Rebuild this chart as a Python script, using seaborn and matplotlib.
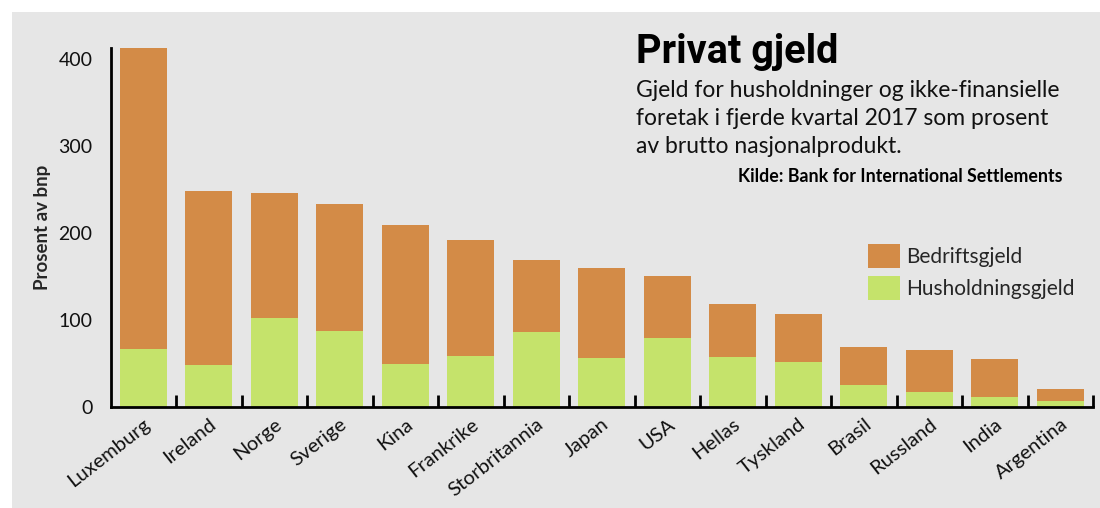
import numpy as np
import pandas as pd
import matplotlib
matplotlib.use("Agg")
import matplotlib.pyplot as plt
from matplotlib.patches import Rectangle
from matplotlib.ticker import FixedLocator
import seaborn as sns

countries = ["Luxemburg", "Ireland", "Norge", "Sverige", "Kina", "Frankrike",
             "Storbritannia", "Japan", "USA", "Hellas", "Tyskland", "Brasil",
             "Russland", "India", "Argentina"]
husholdningsgjeld = [67, 48, 102, 88, 49, 59, 86, 56, 79, 57, 52, 25, 17, 11, 7]
bedriftsgjeld = [346, 201, 144, 146, 160, 133, 83, 104, 72, 62, 55, 44, 48, 44, 14]
y_ticks = [0, 100, 200, 300, 400]
subtitle_lines = ["Gjeld for husholdninger og ikke-finansielle",
                  "foretak i fjerde kvartal 2017 som prosent",
                  "av brutto nasjonalprodukt."]

ORANGE = "#d38b47"
GREEN = "#c5e36b"
BG = "#e6e6e6"

sns.set_theme(style="white")
plt.rcParams["font.family"] = ["Lato", "DejaVu Sans"]

df = pd.DataFrame({
    "land": countries,
    "hus": husholdningsgjeld,
    "bed": bedriftsgjeld,
})
df["total"] = df["hus"] + df["bed"]

fig = plt.figure(figsize=(11, 5.08), dpi=100)
fig.patch.set_facecolor("white")
fig.patches.append(Rectangle((12 / 1100, 0), 1 - 12 / 1100, 1 - 12 / 508,
                             transform=fig.transFigure, facecolor=BG,
                             edgecolor="none", zorder=-10))

ax = fig.add_axes([110.5 / 1100, 101 / 508, (1093 - 110.5) / 1100, (407 - 48) / 508])
ax.set_facecolor("none")

sns.barplot(data=df, x="land", y="total", color=ORANGE, width=0.72,
            saturation=1, ax=ax, label="Bedriftsgjeld")
sns.barplot(data=df, x="land", y="hus", color=GREEN, width=0.72,
            saturation=1, ax=ax, label="Husholdningsgjeld")
for p in ax.patches:
    p.set_edgecolor("none")

ax.set_xlim(-0.5, len(countries) - 0.5)
ax.set_ylim(0, 413)
ax.set_yticks(y_ticks)
ax.set_yticklabels([str(v) for v in y_ticks], fontsize=14, color="#111111")
ax.tick_params(axis="y", direction="out", length=9, width=2, color="black", pad=4)

ax.set_xticks(range(len(countries)))
ax.set_xticklabels(countries, rotation=38, ha="right", rotation_mode="anchor",
                   fontsize=14.5, color="#111111")
ax.tick_params(axis="x", which="major", length=0, pad=6)
ax.xaxis.set_minor_locator(FixedLocator(np.arange(0.5, len(countries), 1.0)))
ax.tick_params(axis="x", which="minor", direction="in", length=9, width=2,
               color="black", bottom=True)

for s in ["top", "right"]:
    ax.spines[s].set_visible(False)
for s in ["left", "bottom"]:
    ax.spines[s].set_linewidth(2)
    ax.spines[s].set_color("black")

ax.set_xlabel("")
ax.set_ylabel("Prosent av bnp", fontsize=13.5, fontweight="bold", labelpad=5)

handles, labels = ax.get_legend_handles_labels()
leg = ax.legend(handles, labels, loc="upper left",
                bbox_to_anchor=((860 - 110.5) / (1093 - 110.5), (407 - 236) / (407 - 48)),
                bbox_transform=ax.transAxes, frameon=False, fontsize=15,
                handlelength=1.5, handleheight=1.4, handletextpad=0.3,
                labelspacing=0.35, borderaxespad=0)

fig.text(636 / 1100, 1 - 63 / 508, "Privat gjeld", fontsize=28.5, fontweight="bold",
         family=["Roboto", "DejaVu Sans"], va="baseline", ha="left", color="black")
for i, line in enumerate(subtitle_lines):
    fig.text(636 / 1100, 1 - (97 + 28 * i) / 508, line, fontsize=16.5,
             va="baseline", ha="left", color="#111111")
fig.text(1062 / 1100, 1 - 182 / 508, "Kilde: Bank for International Settlements",
         fontsize=12.8, fontweight="bold", va="baseline", ha="right", color="black")

fig.savefig("out.png", dpi=100, facecolor=fig.get_facecolor())
